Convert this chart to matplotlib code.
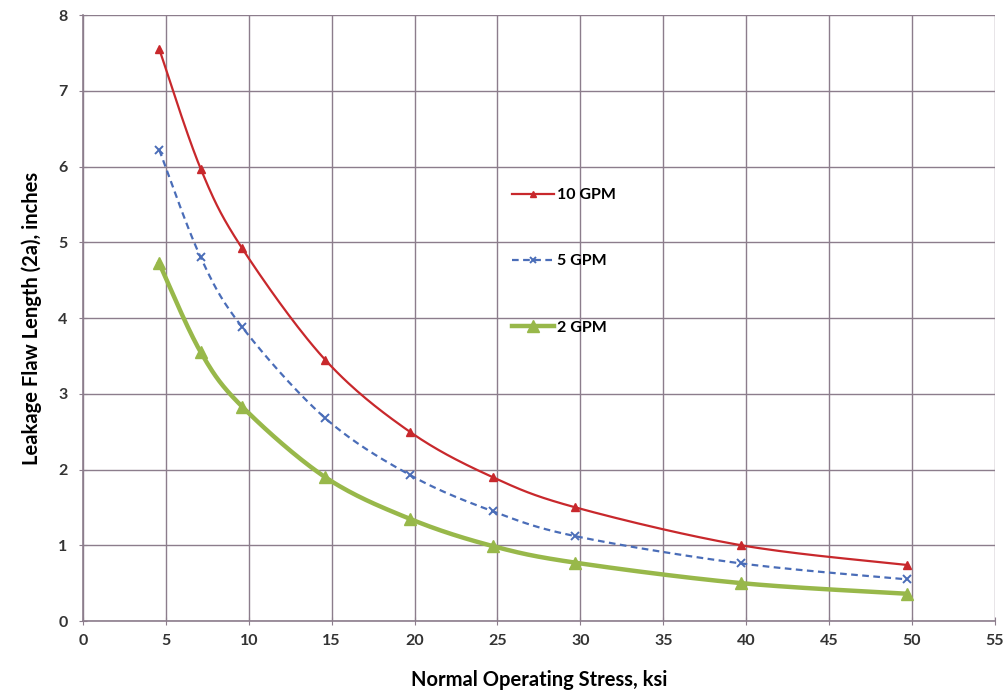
import numpy as np
import matplotlib
matplotlib.use("Agg")
import matplotlib.pyplot as plt
from matplotlib.lines import Line2D

stress = [4.6, 7.1, 9.6, 14.6, 19.7, 24.7, 29.7, 39.7, 49.7]
gpm10 = [7.55, 5.97, 4.92, 3.45, 2.50, 1.90, 1.50, 1.00, 0.74]
gpm5 = [6.22, 4.80, 3.88, 2.68, 1.93, 1.45, 1.12, 0.76, 0.55]
gpm2 = [4.72, 3.55, 2.83, 1.90, 1.35, 0.99, 0.77, 0.50, 0.36]
labels = ["10 GPM", "5 GPM", "2 GPM"]

plt.rcParams['font.family'] = ['Lato', 'DejaVu Sans']


def smooth(x, y, n=30):
    """Excel-like smoothing: cubic Bezier segments with Catmull-Rom control points."""
    x = np.asarray(x, float)
    y = np.asarray(y, float)
    pts = np.column_stack([x, y])
    out = []
    m = len(pts)
    for i in range(m - 1):
        p0 = pts[i - 1] if i > 0 else pts[i]
        p1 = pts[i]
        p2 = pts[i + 1]
        p3 = pts[i + 2] if i + 2 < m else pts[i + 1]
        c1 = p1 + (p2 - p0) / 6.0
        c2 = p2 - (p3 - p1) / 6.0
        t = np.linspace(0, 1, n)[:, None]
        seg = ((1 - t) ** 3) * p1 + 3 * ((1 - t) ** 2) * t * c1 + 3 * (1 - t) * t ** 2 * c2 + t ** 3 * p2
        out.append(seg if i == 0 else seg[1:])
    s = np.vstack(out)
    return s[:, 0], s[:, 1]


fig = plt.figure(figsize=(10.07, 6.98), dpi=100)
ax = fig.add_axes([0.0824, 0.1103, 0.9056, 0.8682])

grid_c = '#8C7D8C'
ax.set_xlim(0, 55)
ax.set_ylim(0, 8)
ax.set_xticks(np.arange(0, 56, 5))
ax.set_yticks(np.arange(0, 9, 1))
ax.grid(True, color=grid_c, linewidth=1.0)
for side in ['top', 'right']:
    ax.spines[side].set_visible(False)
for side in ['left', 'bottom']:
    ax.spines[side].set_color(grid_c)
    ax.spines[side].set_linewidth(1.2)
ax.tick_params(axis='both', direction='inout', length=6, color=grid_c, labelsize=11.5,
               labelcolor='#333333')
ax.tick_params(axis='x', pad=6)
ax.tick_params(axis='y', pad=8)
for lbl in ax.get_xticklabels() + ax.get_yticklabels():
    lbl.set_fontweight('bold')

red = '#C8282C'
blue = '#4A6DB8'
green = '#98B84A'

sx, sy = smooth(stress, gpm10)
ax.plot(sx, sy, color=red, lw=1.6, zorder=3)
ax.plot(stress, gpm10, ls='none', marker='^', ms=6, color=red, zorder=4)

sx, sy = smooth(stress, gpm5)
ax.plot(sx, sy, color=blue, lw=1.6, ls=(0, (3, 2)), zorder=3)
ax.plot(stress, gpm5, ls='none', marker='x', ms=6, mew=1.4, color=blue, zorder=4)

sx, sy = smooth(stress, gpm2)
ax.plot(sx, sy, color=green, lw=3.2, zorder=3)
ax.plot(stress, gpm2, ls='none', marker='^', ms=9, color=green, zorder=4)

handles = [
    Line2D([], [], color=red, lw=1.6, marker='^', ms=5),
    Line2D([], [], color=blue, lw=1.6, ls=(0, (3, 2)), marker='x', ms=5, mew=1.4),
    Line2D([], [], color=green, lw=3.2, marker='^', ms=8),
]
leg = ax.legend(handles, labels, loc='upper left', bbox_to_anchor=(0.455, 0.738),
                frameon=False, labelspacing=3.25, handlelength=2.6, handletextpad=0.2,
                prop={'weight': 'bold', 'size': 11.5})

ax.set_ylabel('Leakage Flaw Length (2a), inches', fontsize=14.5, fontweight='bold', labelpad=12)
ax.set_xlabel('Normal Operating Stress, ksi', fontsize=14.5, fontweight='bold', labelpad=16)

fig.savefig('out.png', dpi=100)
